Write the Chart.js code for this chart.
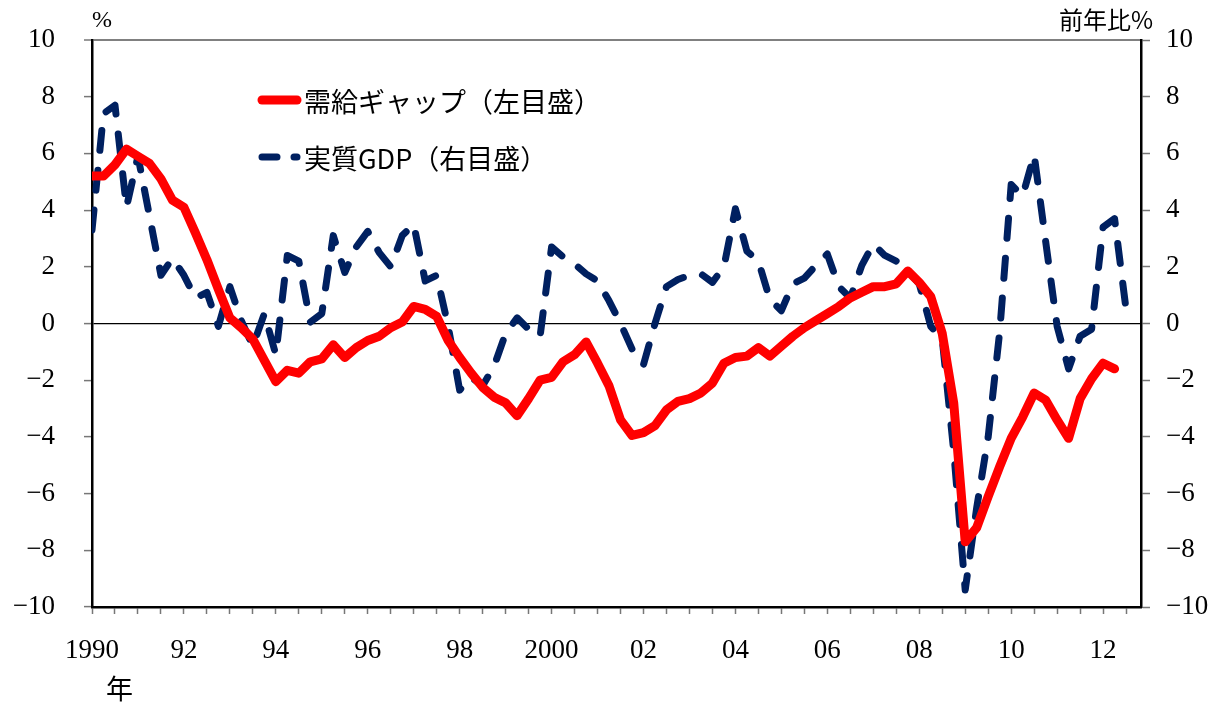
<!DOCTYPE html>
<html lang="ja">
<head>
<meta charset="utf-8">
<title>需給ギャップと実質GDP</title>
<script src="https://cdn.jsdelivr.net/npm/chart.js@4.4.1/dist/chart.umd.min.js"></script>
<style>
  html, body { margin: 0; padding: 0; background: #fff; }
  #wrap { width: 1225px; height: 706px; }
</style>
</head>
<body>
<div id="wrap"><canvas id="gap_chart" width="1225" height="706"></canvas></div>
<script>
// quarterly values, starting 1990 Q1 (index 0 = 1990 Q1)
const gapValues = [
  5.2, 5.2, 5.6, 6.15, 5.9, 5.65, 5.1, 4.35,        // 1990-91
  4.1, 3.2, 2.25, 1.2, 0.2, -0.15, -0.55, -1.3,      // 1992-93
  -2.05, -1.65, -1.75, -1.35, -1.25, -0.75, -1.2, -0.85, // 1994-95
  -0.6, -0.45, -0.15, 0.05, 0.6, 0.5, 0.25, -0.6,    // 1996-97
  -1.2, -1.75, -2.25, -2.6, -2.8, -3.25, -2.65, -2.0, // 1998-99
  -1.9, -1.35, -1.1, -0.65, -1.4, -2.2, -3.4, -3.95, // 2000-01
  -3.85, -3.6, -3.05, -2.75, -2.65, -2.45, -2.1, -1.4, // 2002-03
  -1.2, -1.15, -0.85, -1.15, -0.8, -0.45, -0.15, 0.1, // 2004-05
  0.35, 0.6, 0.9, 1.1, 1.3, 1.3, 1.4, 1.85,          // 2006-07
  1.45, 0.95, -0.35, -2.8, -7.7, -7.2, -6.1, -5.05,  // 2008-09
  -4.05, -3.3, -2.45, -2.7, -3.4, -4.05, -2.65, -1.95, // 2010-11
  -1.4, -1.6                                          // 2012
];
const gdpValues = [
  3.3, 7.4, 7.7, 4.1, 5.9, 3.8, 1.7, 2.3,
  1.7, 0.9, 1.1, -0.1, 1.3, 0.1, -0.8, 0.35,
  -1.1, 2.4, 2.2, 0.05, 0.35, 3.1, 1.8, 2.7,
  3.25, 2.5, 2.0, 3.1, 3.5, 1.5, 1.7, -0.1,
  -2.35, -1.9, -2.2, -1.5, -0.35, 0.2, -0.2, -0.45,
  2.7, 2.35, 2.1, 1.75, 1.5, 0.8, 0.0, -0.9,
  -1.45, 0.0, 1.3, 1.55, 1.7, 1.75, 1.45, 2.0,
  4.05, 2.55, 2.2, 0.85, 0.45, 1.4, 1.6, 2.05,
  2.45, 1.3, 0.9, 2.05, 2.8, 2.4, 2.2, 1.85,
  1.4, -0.1, -0.55, -4.5, -9.4, -6.5, -4.0, -0.3,
  4.9, 4.5, 5.95, 2.9, -0.1, -1.6, -0.45, -0.2,
  3.4, 3.7, 0.5
];
const yearLabels = ['1990', '92', '94', '96', '98', '2000', '02', '04', '06', '08', '10', '12'];
const seriesNames = ['需給ギャップ（左目盛）', '実質GDP（右目盛）'];

const numFont = "'Liberation Serif', 'DejaVu Serif', serif";
const jpFont = "'Noto Sans CJK JP', sans-serif";
const red = '#ff0000';
const navy = '#002060';

const textLayer = {
  id: 'textLayer',
  afterDraw(chart) {
    const ctx = chart.ctx;
    ctx.save();
    ctx.fillStyle = '#000';
    ctx.textBaseline = 'middle';

    // axis units
    ctx.font = '24px ' + numFont;
    ctx.textAlign = 'left';
    ctx.fillText('%', 92, 21);
    ctx.font = '24px ' + jpFont;
    ctx.textAlign = 'right';
    ctx.fillText('前年比%', 1153, 20);
    ctx.font = '27px ' + jpFont;
    ctx.textAlign = 'left';
    ctx.fillText('年', 106, 689);

    // legend
    ctx.lineCap = 'round';
    ctx.strokeStyle = red;
    ctx.lineWidth = 9;
    ctx.beginPath();
    ctx.moveTo(262, 100);
    ctx.lineTo(297, 100);
    ctx.stroke();

    ctx.strokeStyle = navy;
    ctx.lineWidth = 7;
    ctx.beginPath();
    ctx.moveTo(262, 157);
    ctx.lineTo(277, 157);
    ctx.moveTo(294, 157);
    ctx.lineTo(297, 157);
    ctx.stroke();

    ctx.font = '27px ' + jpFont;
    ctx.fillStyle = '#000';
    ctx.fillText(seriesNames[0], 304, 102);
    ctx.fillText(seriesNames[1], 304, 159);
    ctx.restore();
  }
};

const minus = v => (v < 0 ? '\u2212' + Math.abs(v) : String(v));

// keep the tick padding from pushing the plot area down
const fitY = w => scale => {
  scale.width = w;
  scale.paddingTop = 0;
  scale.paddingBottom = 0;
};

new Chart(document.getElementById('gap_chart'), {
  type: 'line',
  data: {
    datasets: [{
      label: seriesNames[0],
      data: gapValues.map((v, i) => ({ x: i, y: v })),
      yAxisID: 'y',
      borderColor: red,
      borderWidth: 9,
      borderJoinStyle: 'round',
      borderCapStyle: 'round',
      pointRadius: 0,
      tension: 0
    }, {
      label: seriesNames[1],
      data: gdpValues.map((v, i) => ({ x: i, y: v })),
      yAxisID: 'y2',
      borderColor: navy,
      borderWidth: 7,
      borderDash: [20, 20],
      borderJoinStyle: 'round',
      borderCapStyle: 'round',
      pointRadius: 0,
      tension: 0
    }]
  },
  options: {
    responsive: false,
    animation: false,
    devicePixelRatio: 1,
    layout: { padding: { top: 40, left: 0, right: 0, bottom: 0 } },
    plugins: {
      legend: { display: false },
      tooltip: { enabled: false }
    },
    scales: {
      x: {
        type: 'linear',
        min: 0,
        max: 91.3,
        afterBuildTicks: scale => {
          scale.ticks = [];
          for (let q = 0; q <= 90; q += 2) scale.ticks.push({ value: q });
        },
        afterFit: scale => { scale.height = 99; },
        ticks: {
          autoSkip: false,
          maxRotation: 0,
          padding: 21,
          color: '#000',
          font: { family: numFont, size: 27 },
          callback: v => (v % 8 === 0 ? yearLabels[v / 8] : '')
        },
        grid: {
          drawOnChartArea: false,
          drawTicks: true,
          tickLength: 7,
          tickColor: '#777',
          tickWidth: 1.5
        },
        border: { color: '#000', width: 2.5 }
      },
      y: {
        position: 'left',
        min: -10,
        max: 10,
        afterFit: fitY(92),
        ticks: {
          stepSize: 2,
          padding: 29,
          color: '#000',
          font: { family: numFont, size: 27 },
          callback: v => minus(v)
        },
        grid: {
          drawOnChartArea: true,
          tickLength: 8,
          tickColor: '#777',
          tickWidth: 1.5,
          color: c => (c.tick.value === 0 ? '#000' : c.tick.value === 10 ? '#808080' : 'rgba(0,0,0,0)'),
          lineWidth: c => (c.tick.value === 10 ? 2 : 1.2)
        },
        border: { color: '#000', width: 2.5 }
      },
      y2: {
        position: 'right',
        min: -10,
        max: 10,
        afterFit: fitY(84),
        ticks: {
          stepSize: 2,
          padding: 16,
          color: '#000',
          font: { family: numFont, size: 27 },
          callback: v => minus(v)
        },
        grid: {
          drawOnChartArea: false,
          tickLength: 9,
          tickColor: '#777',
          tickWidth: 1.5
        },
        border: { color: '#000', width: 2.5 }
      }
    }
  },
  plugins: [textLayer]
});
</script>
</body>
</html>
